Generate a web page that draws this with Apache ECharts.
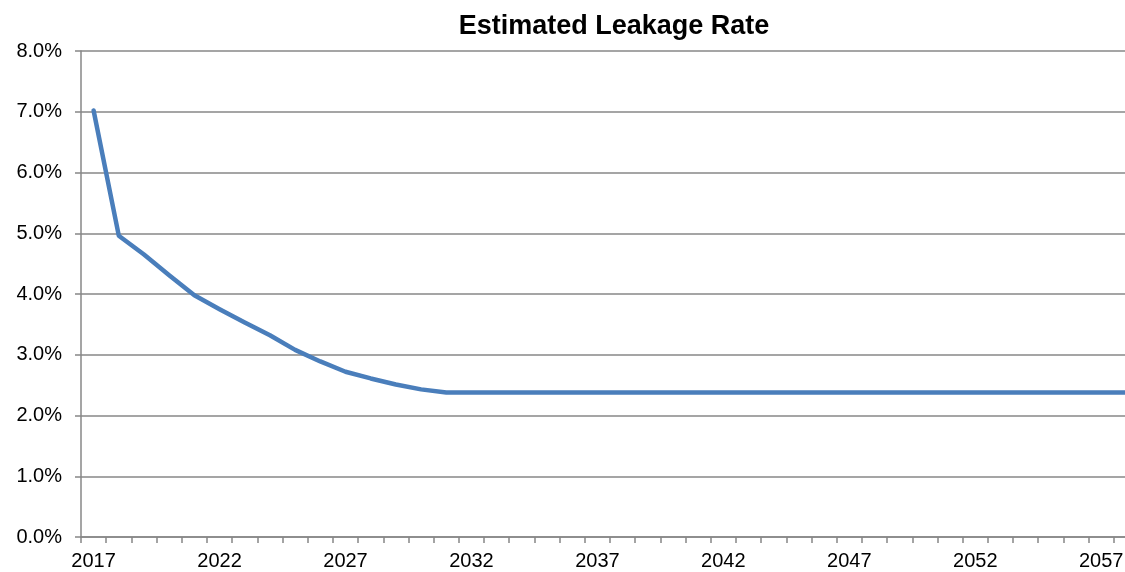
<!DOCTYPE html>
<html>
<head>
<meta charset="utf-8">
<style>
  html, body { margin: 0; padding: 0; background: #ffffff; overflow: hidden; }
  /* the plot runs a little past the right edge of the page */
  #chart { width: 1139px; height: 572px; }
</style>
<script src="https://cdn.jsdelivr.net/npm/echarts@6/dist/echarts.min.js"></script>
</head>
<body>
<div id="chart"></div>
<script>
// Years on the category axis
const years = [];
for (let y = 2017; y <= 2058; y++) years.push(String(y));

// Estimated leakage rate per year, in percent
const leakageRate = [
  7.02, 4.96, 4.65, 4.31, 3.98, 3.75, 3.53, 3.32, 3.08, 2.89,
  2.72, 2.61, 2.51, 2.43, 2.38, 2.38, 2.38, 2.38, 2.38, 2.38,
  2.38, 2.38, 2.38, 2.38, 2.38, 2.38, 2.38, 2.38, 2.38, 2.38,
  2.38, 2.38, 2.38, 2.38, 2.38, 2.38, 2.38, 2.38, 2.38, 2.38,
  2.38, 2.38
];

const chartTitle = 'Estimated Leakage Rate';

const axisGray = '#878787';
const font = 'Arial, "Liberation Sans", Helvetica, sans-serif';

const chart = echarts.init(document.getElementById('chart'));
chart.setOption({
  animation: false,
  backgroundColor: '#ffffff',
  title: {
    text: chartTitle,
    left: 609,
    top: 8,
    textAlign: 'center',
    textStyle: { fontFamily: font, fontSize: 27, fontWeight: 'bold', color: '#000000' }
  },
  grid: { left: 81, top: 51, bottom: 35, right: 0 },
  xAxis: {
    type: 'category',
    data: years,
    boundaryGap: true,
    axisLine: { show: true, lineStyle: { color: axisGray, width: 1.5 } },
    axisTick: { show: true, interval: 0, length: 6, lineStyle: { color: axisGray, width: 1.5 } },
    axisLabel: { interval: 4, margin: 14, fontFamily: font, fontSize: 20, color: '#000000' },
    splitLine: { show: false }
  },
  yAxis: {
    type: 'value',
    min: 0,
    max: 8,
    interval: 1,
    axisLine: { show: true, lineStyle: { color: axisGray, width: 1.5 } },
    axisTick: { show: true, length: 6, lineStyle: { color: axisGray, width: 1.5 } },
    axisLabel: {
      margin: 19,
      fontFamily: font,
      fontSize: 20,
      color: '#000000',
      formatter: v => v.toFixed(1) + '%'
    },
    splitLine: { show: true, lineStyle: { color: axisGray, width: 1.5 } }
  },
  series: [{
    type: 'line',
    data: leakageRate,
    symbol: 'none',
    lineStyle: { color: '#4a7ebb', width: 4.5, cap: 'round', join: 'round' },
    itemStyle: { color: '#4a7ebb' }
  }]
});
</script>
</body>
</html>
